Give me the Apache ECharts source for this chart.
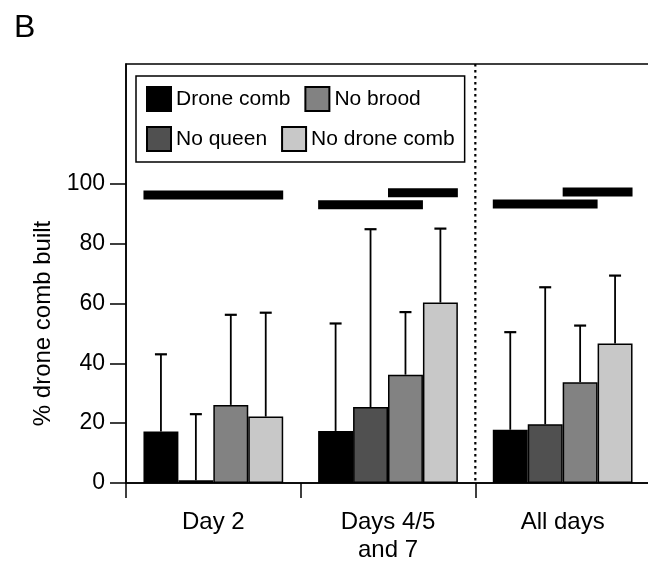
<!DOCTYPE html>
<html lang="en">
<head>
    <meta charset="UTF-8">
    <title>drone comb built</title>
    <script src="https://cdn.jsdelivr.net/npm/echarts@6/dist/echarts.min.js"></script>
</head>
<body style="margin:0;background:#fff;">
<div id="main" style="width:648px;height:561px;"></div>
<script type="text/javascript">

    var categories = ['Day 2', 'Days 4/5\nand 7', 'All days'];
    var legendOrder = ['Drone comb', 'No brood', 'No queen', 'No drone comb'];

    // bar heights (% drone comb built)
    var droneComb = [17.2, 17.4, 17.8];
    var noQueen = [0.9, 25.4, 19.6];
    var noBrood = [26.1, 36.2, 33.7];
    var noDroneComb = [22.2, 60.3, 46.6];

    // top of the error bars
    var droneCombErr = [43.0, 53.3, 50.4];
    var noQueenErr = [23.0, 84.8, 65.4];
    var noBroodErr = [56.2, 57.1, 52.6];
    var noDroneCombErr = [56.9, 85.0, 69.3];

    // significance bars: [category, first bar, last bar, height]
    var sigBars = [
        [0, 0, 3, 96.2],
        [1, 0, 2, 93.0],
        [1, 2, 3, 97.0],
        [2, 0, 2, 93.2],
        [2, 2, 3, 97.2]
    ];

    // dotted divider sits before this category
    var dividers = [2];

    var yTicks = [0, 20, 40, 60, 80, 100];

    var font = 'Liberation Sans, Arial, Helvetica, sans-serif';
    var groups = [
        {name: 'Drone comb', color: '#000000', values: droneComb, err: droneCombErr},
        {name: 'No queen', color: '#505050', values: noQueen, err: noQueenErr},
        {name: 'No brood', color: '#828282', values: noBrood, err: noBroodErr},
        {name: 'No drone comb', color: '#c8c8c8', values: noDroneComb, err: noDroneCombErr}
    ];

    // left edge of bar idx inside category cat (4 bars, 20% category gap)
    var barLeft = function (api, cat, idx) {
        var band = api.size([1, 0])[0];
        var w = band * 0.2;
        return api.coord([cat, 0])[0] - band * 0.4 + w * idx;
    };

    var errData = [];
    groups.forEach(function (g, idx) {
        for (var i = 0; i < categories.length; i++) {
            errData.push([i, idx, g.values[i], g.err[i]]);
        }
    });

    var series = groups.map(function (g) {
        return {
            name: g.name,
            type: 'bar',
            data: g.values,
            barGap: '0%',
            barCategoryGap: '20%',
            itemStyle: {color: g.color, borderColor: '#000', borderWidth: 1.5},
            emphasis: {disabled: true}
        };
    });

    series.push({
        type: 'custom',
        data: errData,
        encode: {x: 0, y: 3},
        z: 5,
        renderItem: function (params, api) {
            var cat = api.value(0), idx = api.value(1);
            var w = api.size([1, 0])[0] * 0.2;
            var cx = barLeft(api, cat, idx) + w / 2;
            var y0 = api.coord([cat, api.value(2)])[1];
            var y1 = api.coord([cat, api.value(3)])[1];
            return {
                type: 'group',
                children: [
                    {type: 'line', shape: {x1: cx, y1: y0, x2: cx, y2: y1}, style: {stroke: '#000', lineWidth: 1.8}},
                    {type: 'line', shape: {x1: cx - 6, y1: y1, x2: cx + 6, y2: y1}, style: {stroke: '#000', lineWidth: 2.2}}
                ]
            };
        }
    });

    series.push({
        type: 'custom',
        data: sigBars,
        encode: {x: 0, y: 3},
        z: 5,
        renderItem: function (params, api) {
            var cat = api.value(0);
            var w = api.size([1, 0])[0] * 0.2;
            var x0 = barLeft(api, cat, api.value(1));
            var x1 = barLeft(api, cat, api.value(2)) + w;
            var y = api.coord([cat, api.value(3)])[1];
            return {
                type: 'rect',
                shape: {x: x0, y: y - 4.5, width: x1 - x0, height: 9},
                style: {fill: '#000'}
            };
        }
    });

    series.push({
        type: 'custom',
        data: dividers.map(function (d) { return [d, 0]; }),
        encode: {x: 0, y: 1},
        z: 4,
        renderItem: function (params, api) {
            var cat = api.value(0);
            var band = api.size([1, 0])[0];
            var x = api.coord([cat, 0])[0] - band / 2;
            var top = api.coord([cat, 140])[1];
            var bottom = api.coord([cat, 0])[1];
            return {
                type: 'line',
                shape: {x1: x, y1: top, x2: x, y2: bottom},
                style: {stroke: '#000', lineWidth: 2.2, lineDash: [2.5, 3.5]}
            };
        }
    });

    var option = {
        backgroundColor: '#fff',
        animation: false,
        title: {
            text: 'B',
            left: 9,
            top: 7,
            textStyle: {fontFamily: font, fontSize: 32, fontWeight: 'normal', color: '#000'}
        },
        legend: {
            data: legendOrder,
            left: 136,
            top: 76,
            width: 320,
            padding: [10, 10, 10, 10],
            itemGap: 14,
            itemWidth: 24,
            itemHeight: 24,
            icon: 'rect',
            borderColor: '#000',
            borderWidth: 1.5,
            textStyle: {fontFamily: font, fontSize: 21, color: '#000'}
        },
        grid: {
            left: 126,
            right: -2,
            top: 64,
            bottom: 78,
            outerBoundsMode: 'none',
            show: true,
            borderColor: '#000',
            borderWidth: 1.5
        },
        xAxis: {
            type: 'category',
            data: categories,
            axisLine: {show: true, lineStyle: {color: '#000', width: 1.5}},
            axisTick: {show: true, interval: 0, length: 15, lineStyle: {color: '#000', width: 1.5}},
            axisLabel: {
                margin: 25,
                interval: 0,
                fontFamily: font,
                fontSize: 24,
                lineHeight: 28,
                color: '#000'
            },
            splitLine: {show: false}
        },
        yAxis: {
            type: 'value',
            min: 0,
            max: 140,
            interval: 20,
            name: '% drone comb built',
            nameLocation: 'middle',
            nameGap: 66,
            nameTextStyle: {fontFamily: font, fontSize: 24, color: '#000', padding: [0, 100, 0, 0]},
            axisLine: {show: true, lineStyle: {color: '#000', width: 1.5}},
            axisTick: {show: true, length: 16, customValues: yTicks, lineStyle: {color: '#000', width: 1.5}},
            axisLabel: {margin: 21, customValues: yTicks, fontFamily: font, fontSize: 23, color: '#000'},
            splitLine: {show: false}
        },
        series: series
    };

    var myChart = echarts.init(document.getElementById('main'));
    myChart.setOption(option);

</script>
</body>
</html>
